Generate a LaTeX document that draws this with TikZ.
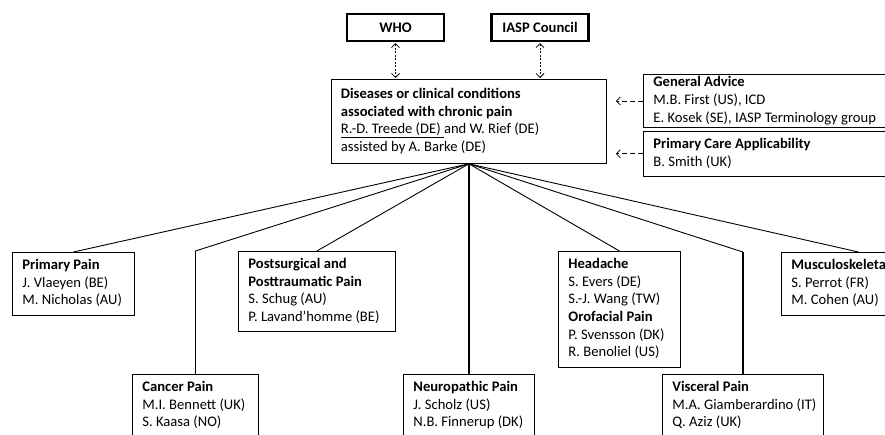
\documentclass[tikz,border=0pt]{standalone}
\usepackage{fontspec}
\setmainfont{Carlito}
\usetikzlibrary{arrows.meta}
\newcommand\roster[2]{\makebox[#1][l]{\begin{tabular}{@{}l@{}}#2\end{tabular}}}

\tikzset{
  panel/.style={draw, line width=0.8pt, anchor=north west,
    inner xsep=10pt, inner ysep=4.7pt, font=\fontsize{14.6}{17.7}\selectfont},
  board/.style={draw, line width=2.2pt, minimum width=97pt, minimum height=27pt,
    font=\fontsize{14.6}{17.7}\selectfont\bfseries},
  link/.style={line width=0.9pt},
  post/.style={line width=1.6pt},
  advice/.style={line width=0.8pt, dash pattern=on 5pt off 3pt,
    -{Straight Barb[length=4pt,width=8pt]}},
  liaison/.style={line width=0.8pt, dash pattern=on 2pt off 1.5pt,
    {Straight Barb[length=4pt,width=8pt]}-{Straight Barb[length=4pt,width=8pt]}},
}

\begin{document}
\begin{tikzpicture}[x=1pt,y=-1pt]
  \useasboundingbox (0,0) rectangle (885,434);
  \clip (0,0) rectangle (885,434);

  %%%%% top %%%%%
  \node[board] (who) at (395.5,27.5) {WHO};
  \node[board] (iasp) at (540,27.5) {IASP Council};

  \node[panel, inner xsep=9.5pt, inner ysep=6.6pt] (main) at (331,79)
    {\roster{256pt}{\textbf{Diseases or clinical conditions}\\
     \textbf{associated with chronic pain}\\
     \underline{R.-D. Treede (DE)\ }and W. Rief (DE)\\
     assisted by A. Barke (DE)}};

  \node[panel, inner ysep=0pt] (general) at (643,74)
    {\roster{240pt}{\textbf{General Advice}\\M.B. First (US), ICD\\E. Kosek (SE), IASP Terminology group}};
  \node[panel] (care) at (643,131)
    {\roster{240pt}{\textbf{Primary Care Applicability}\\B. Smith (UK)}};

  \draw[liaison, shorten <=1pt, shorten >=1pt] (who.south) -- (who.south |- main.north);
  \draw[liaison, shorten <=1pt, shorten >=1pt] (iasp.south) -- (iasp.south |- main.north);
  \draw[advice, shorten >=9pt] (general.west) -- (general.west -| main.east);
  \draw[advice, shorten >=9pt] (care.west) -- (care.west -| main.east);

  %%%%% working groups %%%%%
  \node[panel] (primary) at (12,252)
    {\roster{102pt}{\textbf{Primary Pain}\\J. Vlaeyen (BE)\\M. Nicholas (AU)}};
  \node[panel] (surgical) at (238,251)
    {\roster{137pt}{\textbf{Postsurgical and}\\\textbf{Posttraumatic Pain}\\S. Schug (AU)\\P. Lavand'homme (BE)}};
  \node[panel] (headache) at (558,251)
    {\roster{102pt}{\textbf{Headache}\\S. Evers (DE)\\S.-J. Wang (TW)\\\textbf{Orofacial Pain}\\P. Svensson (DK)\\R. Benoliel (US)}};
  \node[panel] (musculo) at (781,252)
    {\roster{134pt}{\textbf{Musculoskeletal Pain}\\S. Perrot (FR)\\M. Cohen (AU)}};

  \node[panel] (cancer) at (132,374)
    {\roster{106pt}{\textbf{Cancer Pain}\\M.I. Bennett (UK)\\S. Kaasa (NO)}};
  \node[panel] (neuro) at (403,374)
    {\roster{111pt}{\textbf{Neuropathic Pain}\\J. Scholz (US)\\N.B. Finnerup (DK)}};
  \node[panel] (visceral) at (662,374)
    {\roster{141pt}{\textbf{Visceral Pain}\\M.A. Giamberardino (IT)\\Q. Aziz (UK)}};

  %%%%% connectors %%%%%
  \draw[link] (main.south) -- (primary.north);
  \draw[link] (main.south) -- (surgical.north);
  \draw[link] (main.south) -- (headache.north);
  \draw[link] (main.south) -- (musculo.north);
  \draw[link] (main.south) -- (cancer.north |- surgical.north);
  \draw[post] (cancer.north |- surgical.north) -- (cancer.north);
  \draw[link] (main.south) -- (visceral.north |- primary.north);
  \draw[post] (visceral.north |- primary.north) -- (visceral.north);
  \draw[post] (main.south) -- (neuro.north);
\end{tikzpicture}
\end{document}
